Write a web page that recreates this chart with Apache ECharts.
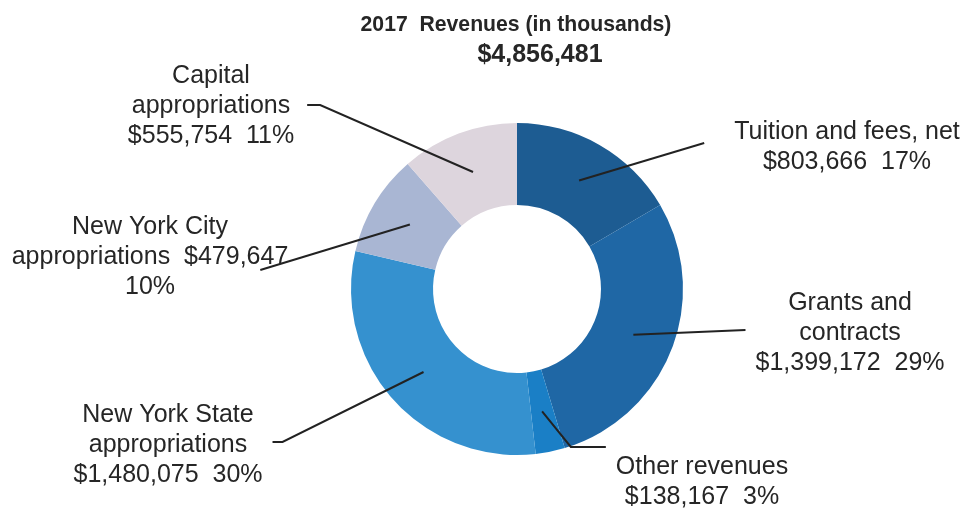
<!DOCTYPE html>
<html>
<head>
<meta charset="utf-8">
<script src="https://cdn.jsdelivr.net/npm/echarts@6/dist/echarts.min.js"></script>
<style>
html,body{margin:0;padding:0;background:#fff;}
#chart{width:968px;height:512px;}
</style>
</head>
<body>
<div id="chart"></div>
<script>
// ---- data ----
var categories = ['Tuition and fees, net', 'Grants and\ncontracts', 'Other revenues', 'New York State\nappropriations', 'New York City\nappropriations', 'Capital\nappropriations'];
var values = [803666, 1399172, 138167, 1480075, 479647, 555754];
var labelFormats = ['{name}\n{value}  {pct}', '{name}\n{value}  {pct}', '{name}\n{value}  {pct}', '{name}\n{value}  {pct}', '{name}  {value}\n{pct}', '{name}\n{value}  {pct}'];
var titleText = '2017  Revenues (in thousands)';
var colors = ['#1d5c92', '#1f67a5', '#1a7fc6', '#3591cf', '#a9b6d3', '#ddd5dd'];

// ---- layout (positions of labels, not data) ----
var CX = 517, CY = 289, R0 = 84, R1 = 166;
var labelCenters = [[847, 147], [850, 333], [702, 482], [168, 445], [150, 257], [211, 106]];
var guides = [
  {side: 'left', gap: 30, dy: -4, elbow: 0},
  {side: 'left', gap: 10, dy: -3, elbow: 0},
  {side: 'left', gap: 10, dy: -35, elbow: 35},
  {side: 'right', gap: 10, dy: -3, elbow: 10},
  {side: 'right', gap: -28, dy: 13, elbow: 0},
  {side: 'right', gap: 13, dy: -1, elbow: 13}
];

var total = values.reduce(function (a, b) { return a + b; }, 0);
function fmtMoney(v) { return '$' + v.toLocaleString('en-US'); }

var midAngles = [];
(function () {
  var acc = 0;
  for (var i = 0; i < values.length; i++) {
    midAngles.push((acc + values[i] / 2) / total * Math.PI * 2);
    acc += values[i];
  }
})();

var chart = echarts.init(document.getElementById('chart'), null, {renderer: 'canvas'});
var FONT = '"Liberation Sans", Arial, sans-serif';

var labelOpt = {
  show: true,
  position: 'outside',
  fontFamily: FONT,
  fontSize: 25,
  lineHeight: 30,
  color: '#262626',
  align: 'center',
  formatter: function (p) {
    var pct = Math.round(p.value / total * 100) + '%';
    return labelFormats[p.dataIndex]
      .replace('{name}', p.name)
      .replace('{value}', fmtMoney(p.value))
      .replace('{pct}', pct);
  }
};

function layoutFn(params) {
  var i = params.dataIndex;
  var c = labelCenters[i];
  var w = params.labelRect.width;
  var a = midAngles[i];
  var rm = (R0 + R1) / 2;
  var start = [CX + rm * Math.sin(a), CY - rm * Math.cos(a)];
  var g = guides[i];
  var ex = g.side === 'left' ? c[0] - w / 2 - g.gap : c[0] + w / 2 + g.gap;
  var ey = c[1] + g.dy;
  var bx = g.side === 'left' ? ex - g.elbow : ex + g.elbow;
  return {
    x: c[0],
    y: c[1],
    align: 'center',
    verticalAlign: 'middle',
    labelLinePoints: [start, [bx, ey], [ex, ey]]
  };
}

chart.setOption({
  backgroundColor: '#ffffff',
  animation: false,
  title: [{
    text: titleText,
    left: 511,
    top: 5,
    textAlign: 'center',
    textStyle: {fontFamily: FONT, fontSize: 21.2, fontWeight: 'bold', color: '#262626', lineHeight: 30}
  }, {
    text: fmtMoney(total),
    left: 535,
    top: 35,
    textAlign: 'center',
    textStyle: {fontFamily: FONT, fontSize: 25, fontWeight: 'bold', color: '#262626', lineHeight: 30}
  }],
  series: [{
    type: 'pie',
    z: 1,
    silent: true,
    center: [CX, CY],
    radius: [R0, R1],
    startAngle: 90,
    clockwise: true,
    itemStyle: {borderWidth: 0},
    label: {show: false},
    labelLine: {show: false},
    data: categories.map(function (c, i) {
      return {name: c, value: values[i], itemStyle: {color: colors[i]}};
    })
  }, {
    type: 'pie',
    z: 5,
    silent: true,
    center: [CX, CY],
    radius: [R0, R1],
    startAngle: 90,
    clockwise: true,
    avoidLabelOverlap: false,
    itemStyle: {borderWidth: 0, color: 'rgba(0,0,0,0)'},
    data: categories.map(function (c, i) {
      return {name: c, value: values[i]};
    }),
    label: labelOpt,
    labelLine: {show: true, length: 10, length2: 10, lineStyle: {color: '#222', width: 2}},
    labelLayout: layoutFn
  }]
});
</script>
</body>
</html>
